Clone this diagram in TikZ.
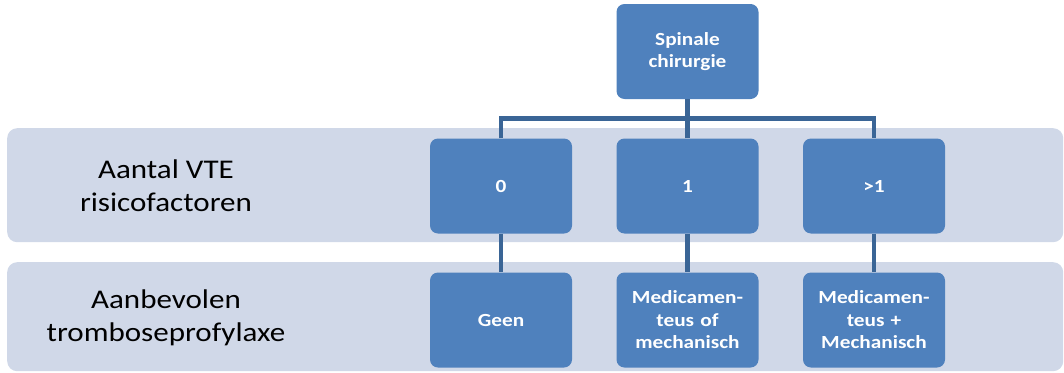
\documentclass[tikz,border=0pt]{standalone}
\usepackage{fontspec}
\setmainfont{Carlito}[FakeStretch=1.15]
\definecolor{boxblue}{HTML}{4F81BD}
\definecolor{bandfill}{HTML}{D0D8E8}
\definecolor{linkblue}{HTML}{3A6596}
\pgfdeclarelayer{back}
\pgfsetlayers{back,main}
\begin{document}
\begin{tikzpicture}[x=1pt,y=-1pt,
  band/.style={fill=bandfill, rounded corners=10pt, inner sep=0pt, anchor=north west},
  bandtext/.style={align=center, font=\fontsize{27}{33}\selectfont, text=black},
  stepbox/.style={fill=boxblue, rounded corners=8pt, minimum width=142pt, minimum height=95pt,
    inner sep=0pt, text width=132pt, align=center, text=white,
    font=\bfseries\fontsize{18.5}{22.5}\selectfont},
  conn/.style={draw=linkblue, line width=4.5pt}]
  \useasboundingbox (0,0) rectangle (1064,372);

  % row bands
  \begin{pgfonlayer}{back}
  \node[band, minimum width=1056pt, minimum height=114pt] (bandA) at (7,128) {};
  \node[band, minimum width=1056pt, minimum height=109pt] (bandB) at (7,262) {};
  \end{pgfonlayer}
  \node[bandtext] (labA) at (166,186) {Aantal VTE\\risicofactoren};
  \node[bandtext] (labB) at (166,318) {Aanbevolen\\tromboseprofylaxe};

  % height of the shared branch line
  \coordinate (bus) at (0,118.5);

  % boxes
  \node[stepbox] (top) at (687.5,51.5) {Spinale\\chirurgie};
  \node[stepbox] (r0) at (501,186) {0};
  \node[stepbox] (r1) at (687.5,186) {1};
  \node[stepbox] (r2) at (874,186) {>1};
  \node[stepbox] (p0) at (501,320) {Geen};
  \node[stepbox] (p1) at (687.5,320) {Medicamen-\\teus of\\mechanisch};
  \node[stepbox] (p2) at (874,320) {Medicamen-\\teus +\\Mechanisch};

  % tree connectors
  \path[conn] (top.south) -- (top.south |- bus);
  \path[conn] (r0.north) -- (r0.north |- bus) -- (r2.north |- bus) -- (r2.north);
  \path[conn] (r1.north) -- (r1.north |- bus);
  \path[conn] (r0.south) -- (p0.north);
  \path[conn] (r1.south) -- (p1.north);
  \path[conn] (r2.south) -- (p2.north);
\end{tikzpicture}
\end{document}
